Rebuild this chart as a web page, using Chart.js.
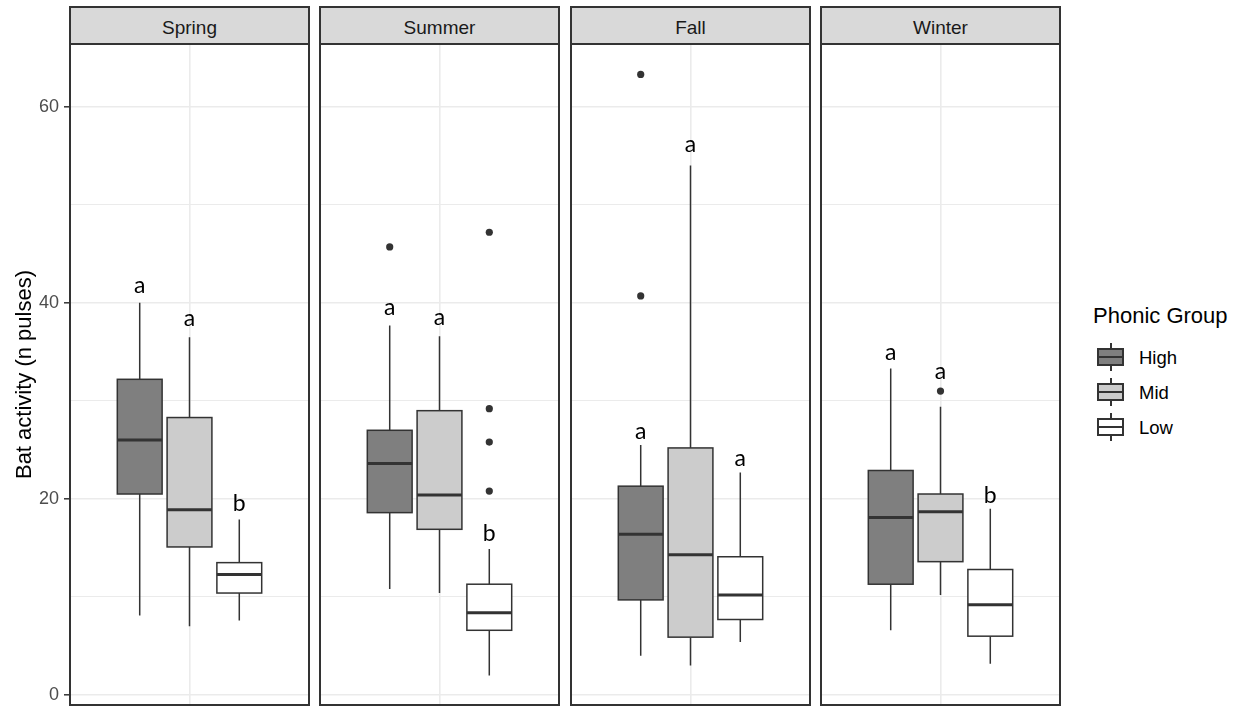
<!DOCTYPE html>
<html lang="en">
<head>
<meta charset="UTF-8">
<title>Bat activity by season and phonic group</title>
<script src="https://cdn.jsdelivr.net/npm/chart.js"></script>
<style>
  html, body { margin: 0; padding: 0; background: #fff; overflow: hidden; }
  body { width: 1239px; height: 706px; position: relative; font-family: "Liberation Sans", Arial, sans-serif; }
  canvas { position: absolute; top: 40px; }
  .strip {
    position: absolute; top: 6px; width: 241px; height: 39px; box-sizing: border-box;
    border: 2px solid #333; background: #d9d9d9; color: #1a1a1a;
    font-size: 19px; text-align: center; padding-top: 4px; line-height: 31px;
  }
  .legend-title { position: absolute; left: 1093px; top: 303px; font-size: 22px; line-height: 26px; color: #000; }
  .key { position: absolute; left: 1097px; width: 27px; height: 28px; }
  .key .stem { position: absolute; left: 12.5px; top: 0; width: 2px; height: 28px; background: #333; }
  .key .box { position: absolute; left: 0; top: 5px; width: 27px; height: 18px; box-sizing: border-box; border: 2px solid #333; }
  .key .med { position: absolute; left: 0; top: 13px; width: 27px; height: 2px; background: #333; }
  .key-label { position: absolute; left: 1139px; font-size: 18.5px; line-height: 22px; color: #000; }
</style>
</head>
<body>
<div id="strips"></div>
<div id="panels"></div>
<div id="legend"></div>

<script>
// facets and groups
const seasons = ['Spring', 'Summer', 'Fall', 'Winter'];
const groups = ['High', 'Mid', 'Low'];

// one row per season, one value per group (High, Mid, Low)
const whiskerMin    = [[8.1, 7.0, 7.6], [10.8, 10.4, 2.0], [4.0, 3.0, 5.4], [6.6, 10.2, 3.2]];
const lowerQuartile = [[20.5, 15.1, 10.4], [18.6, 16.9, 6.6], [9.7, 5.9, 7.7], [11.3, 13.6, 6.0]];
const medians       = [[26.0, 18.9, 12.3], [23.6, 20.4, 8.4], [16.4, 14.3, 10.2], [18.1, 18.7, 9.2]];
const upperQuartile = [[32.2, 28.3, 13.5], [27.0, 29.0, 11.3], [21.3, 25.2, 14.1], [22.9, 20.5, 12.8]];
const whiskerMax    = [[40.0, 36.5, 17.9], [37.7, 36.6, 14.9], [25.5, 54.0, 22.7], [33.3, 29.4, 19.0]];
const outliers = [
  [[], [], []],
  [[45.7], [], [47.2, 29.2, 25.8, 20.8]],
  [[63.3, 40.7], [], []],
  [[], [31.0], []]
];

// significance letters and the value their baseline sits on
const letters    = [['a', 'a', 'b'], ['a', 'a', 'b'], ['a', 'a', 'a'], ['a', 'a', 'b']];
const letterBase = [[41.0, 37.6, 18.8], [38.8, 37.7, 15.7], [26.1, 55.4, 23.4], [34.2, 32.2, 19.6]];

// y axis
const yTicks = [0, 10, 20, 30, 40, 50, 60];
const yLabelTicks = [0, 20, 40, 60];
const yTitle = 'Bat activity (n pulses)';
const legendTitle = 'Phonic Group';

// ---- look and layout ----
const groupFill = ['#7f7f7f', '#cccccc', '#ffffff'];
const groupX = [0.75, 1, 1.25];     // dodged positions on the x scale
const boxHalf = 0.1125;
const panelLeft = [70, 320, 571, 821];
const panelWidth = 239;
const pad = 4;                      // keeps the chart area clear of point overflow
const font = '"Liberation Sans", Arial, sans-serif';

function noPadding(sc) {
  sc.paddingTop = 0;
  sc.paddingBottom = 0;
  sc.paddingLeft = 0;
  sc.paddingRight = 0;
}

const boxPlugin = {
  id: 'boxes',
  beforeDatasetsDraw(chart, args, opts) {
    const s = opts.season;
    const {ctx, scales: {x, y}} = chart;
    groups.forEach((g, j) => {
      const cx = x.getPixelForValue(groupX[j]);
      const half = x.getPixelForValue(groupX[j] + boxHalf) - cx;
      const top = y.getPixelForValue(upperQuartile[s][j]);
      const bot = y.getPixelForValue(lowerQuartile[s][j]);
      const med = y.getPixelForValue(medians[s][j]);
      ctx.save();
      ctx.strokeStyle = '#333';
      ctx.lineWidth = 1.5;
      ctx.beginPath();
      ctx.moveTo(cx, top);
      ctx.lineTo(cx, y.getPixelForValue(whiskerMax[s][j]));
      ctx.moveTo(cx, bot);
      ctx.lineTo(cx, y.getPixelForValue(whiskerMin[s][j]));
      ctx.stroke();
      ctx.fillStyle = groupFill[j];
      ctx.fillRect(cx - half, top, 2 * half, bot - top);
      ctx.strokeRect(cx - half, top, 2 * half, bot - top);
      ctx.lineWidth = 3;
      ctx.beginPath();
      ctx.moveTo(cx - half, med);
      ctx.lineTo(cx + half, med);
      ctx.stroke();
      ctx.restore();
    });
  },
  afterDatasetsDraw(chart, args, opts) {
    const s = opts.season;
    const {ctx, scales: {x, y}} = chart;
    ctx.save();
    ctx.fillStyle = '#000';
    ctx.font = '23px Lato, "Open Sans", sans-serif';
    ctx.textAlign = 'center';
    ctx.textBaseline = 'alphabetic';
    letters[s].forEach((t, j) => {
      ctx.fillText(t, x.getPixelForValue(groupX[j]), y.getPixelForValue(letterBase[s][j]));
    });
    ctx.restore();
  },
  afterDraw(chart) {
    const {ctx, chartArea: a} = chart;
    ctx.save();
    ctx.strokeStyle = '#333';
    ctx.lineWidth = 2;
    ctx.strokeRect(a.left, a.top, a.right - a.left, a.bottom - a.top);
    ctx.restore();
  }
};

function makePanel(s) {
  const first = s === 0;
  const canvas = document.createElement('canvas');
  const left = first ? 0 : panelLeft[s] - pad;
  const width = first ? panelLeft[0] + panelWidth + pad : panelWidth + 2 * pad;
  canvas.width = width;
  canvas.height = 661 + 2 * pad;
  canvas.style.left = left + 'px';
  document.getElementById('panels').appendChild(canvas);

  const strip = document.createElement('div');
  strip.className = 'strip';
  strip.style.left = (panelLeft[s] - 1) + 'px';
  strip.textContent = seasons[s];
  document.getElementById('strips').appendChild(strip);

  const points = [];
  outliers[s].forEach((vals, j) => vals.forEach(v => points.push({x: groupX[j], y: v})));

  new Chart(canvas.getContext('2d'), {
    type: 'scatter',
    data: {
      datasets: [{
        label: 'outliers',
        data: points,
        pointRadius: 3.6,
        pointBackgroundColor: '#333',
        pointBorderWidth: 0
      }]
    },
    options: {
      responsive: false,
      animation: false,
      events: [],
      layout: { padding: { left: first ? 0 : pad, right: pad, top: pad, bottom: pad } },
      plugins: {
        legend: { display: false },
        tooltip: { enabled: false },
        boxes: { season: s }
      },
      scales: {
        x: {
          type: 'linear',
          min: 0.4,
          max: 1.6,
          afterBuildTicks: sc => { sc.ticks = [{ value: groupX[1] }]; },
          afterFit: sc => { sc.height = 0; noPadding(sc); },
          ticks: { display: false },
          grid: { color: '#ebebeb', lineWidth: 1.6, drawTicks: false },
          border: { display: false }
        },
        y: {
          min: -1.02,
          max: 66.4,
          afterBuildTicks: sc => { sc.ticks = yTicks.map(v => ({ value: v })); },
          afterFit: sc => { sc.width = first ? panelLeft[0] : 0; noPadding(sc); },
          ticks: {
            display: first,
            autoSkip: false,
            color: '#4d4d4d',
            padding: 5,
            font: { size: 18, family: font },
            callback: v => yLabelTicks.includes(v) ? v : ''
          },
          grid: {
            color: '#ebebeb',
            lineWidth: c => (c.tick && yLabelTicks.includes(c.tick.value)) ? 1.6 : 1,
            drawTicks: first,
            tickLength: 6,
            tickWidth: 1.5,
            tickColor: c => (c.tick && yLabelTicks.includes(c.tick.value)) ? '#333' : 'rgba(0,0,0,0)'
          },
          border: { display: false },
          title: {
            display: first,
            text: yTitle,
            color: '#000',
            font: { size: 22, family: font },
            padding: { top: 12, bottom: 0 }
          }
        }
      }
    },
    plugins: [boxPlugin]
  });
}

seasons.forEach((name, s) => makePanel(s));

// legend
const legend = document.getElementById('legend');
const lt = document.createElement('div');
lt.className = 'legend-title';
lt.textContent = legendTitle;
legend.appendChild(lt);
groups.forEach((g, j) => {
  const centre = 357 + j * 35;
  const key = document.createElement('div');
  key.className = 'key';
  key.style.top = (centre - 14) + 'px';
  key.innerHTML = '<div class="stem"></div><div class="box" style="background:' + groupFill[j] + '"></div><div class="med"></div>';
  legend.appendChild(key);
  const lab = document.createElement('div');
  lab.className = 'key-label';
  lab.style.top = (centre - 10) + 'px';
  lab.textContent = g;
  legend.appendChild(lab);
});
</script>
</body>
</html>
